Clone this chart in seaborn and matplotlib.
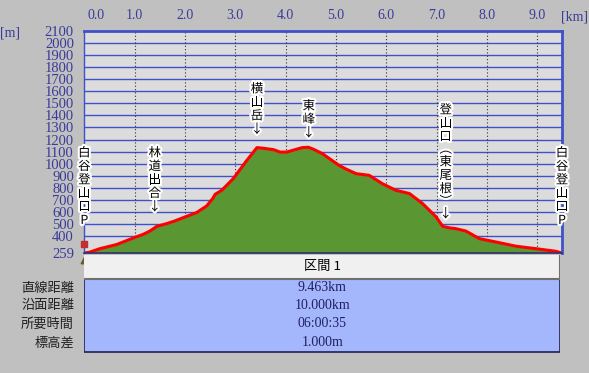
import numpy as np
import pandas as pd
import matplotlib
matplotlib.use("Agg")
import matplotlib.pyplot as plt
import matplotlib.patheffects as pe
import matplotlib.transforms as mtrans
from matplotlib.patches import Rectangle
import seaborn as sns

sns.set_theme(style="white")
plt.rcParams["font.family"] = ["Noto Sans CJK JP", "DejaVu Sans"]

# ── Profile data (horizontal distance km, elevation m) ─────────
dist_km = [0.00, 0.10, 0.31, 0.64, 0.97, 1.17, 1.30, 1.44, 1.64, 1.80,
           1.97, 2.23, 2.43, 2.55, 2.60, 2.73, 2.96, 3.23, 3.43, 3.55,
           3.76, 3.89, 4.02, 4.22, 4.33, 4.45, 4.55, 4.73, 5.06, 5.20,
           5.40, 5.66, 5.92, 6.19, 6.46, 6.72, 6.99, 7.12, 7.25, 7.38,
           7.58, 7.85, 8.18, 8.58, 8.97, 9.37, 9.46]
elev_m = [259, 265, 295, 329, 383, 414, 440, 480, 503, 525,
          553, 594, 649, 710, 746, 779, 876, 1028, 1133, 1128,
          1116, 1096, 1096, 1120, 1133, 1136, 1120, 1083, 986, 955,
          917, 903, 834, 779, 752, 669, 558, 480, 468, 461,
          441, 378, 350, 315, 295, 273, 262]

x_ticks = [0, 1, 2, 3, 4, 5, 6, 7, 8, 9]
y_ticks = [259] + list(range(400, 2101, 100))

# ── Waypoint labels ───────────────────────────────────
wp_names = ["白谷登山口P", "林道出合", "横山岳", "東峰", "登山口︵東尾根︶", "白谷登山口P"]
wp_km = [0.0, 1.40, 3.43, 4.46, 7.18, 9.49]
wp_arrow = [False, True, True, True, True, False]

# ── Summary table ─────────────────────────────────────
section_title = "区間 1"
row_names = ["直線距離", "沿面距離", "所要時間", "標高差"]
row_values = ["9.463km", "10.000km", "06:00:35", "1.000m"]

W, H = 589, 373
BG = "#c0c0c0"
TICK_C = "#3a3a9a"
GRID_C = "#4050c8"

fig = plt.figure(figsize=(W / 100, H / 100), dpi=100, facecolor=BG)


def fx(px):
    return px / W


def fy(py):
    return 1 - py / H


ax = fig.add_axes([fx(84.3), fy(253), fx(562 - 84.3), (253 - 31) / H])
ax.set_facecolor("#dcdcdc")

df = pd.DataFrame({"km": dist_km, "m": elev_m})
ax.fill_between(df["km"], df["m"], 259, color="#5a9632", lw=0)
sns.lineplot(data=df, x="km", y="m", color="#ff0000", lw=2.2, ax=ax,
             sort=False)

ax.set_xlim(0, 9.49)
ax.set_ylim(259, 2100)
ax.set_xticks(x_ticks)
ax.set_xticklabels([f"{v:.1f}" for v in x_ticks])
ax.set_yticks(y_ticks)
ax.set_yticklabels([str(v) for v in y_ticks])
ax.xaxis.tick_top()
ax.tick_params(axis="x", length=0, pad=6.5, labelsize=10, labelcolor=TICK_C)
ax.tick_params(axis="y", length=0, pad=7.5, labelsize=10.5, labelcolor=TICK_C)
for lab in ax.get_xticklabels() + ax.get_yticklabels():
    lab.set_family("Liberation Serif")
ax.set_xlabel("")
ax.set_ylabel("")

# shift first km label like the original
lab0 = ax.xaxis.get_major_ticks()[0].label2
lab0.set_transform(lab0.get_transform()
                   + mtrans.ScaledTranslation(0.12, 0, fig.dpi_scale_trans))

for v in y_ticks[1:-1]:
    ax.axhline(v, color=GRID_C, lw=1, zorder=0.5)
for v in x_ticks[1:]:
    ax.axvline(v, color="#303040", lw=0.8, ls=(0, (1, 2)), zorder=0.6)

ax.spines["top"].set_color(GRID_C)
ax.spines["top"].set_linewidth(2)
ax.spines["right"].set_color(GRID_C)
ax.spines["right"].set_linewidth(2)
ax.spines["left"].set_color(GRID_C)
ax.spines["left"].set_linewidth(1)
ax.spines["left"].set_linestyle((0, (1, 1)))
ax.spines["bottom"].set_color("#303070")
ax.spines["bottom"].set_linewidth(1.2)

fig.text(fx(10), fy(33), "[m]", color=TICK_C, fontsize=10,
         family="Liberation Serif", ha="center", va="center")
fig.text(fx(574), fy(17), "[km]", color=TICK_C, fontsize=10,
         family="Liberation Serif", ha="center", va="center")

# runner icon at the start
ax.scatter([0], [330], s=22, color="#c03030", marker="s", clip_on=False,
           zorder=6)
ax.scatter([0], [200], s=22, color="#6a5a30", marker="^", clip_on=False,
           zorder=6)

# ── Vertical waypoint labels ──────────────────────────
top_px = [153, 153, 89, 106, 110, 153]
halo = [pe.withStroke(linewidth=3, foreground="white")]
for name, km, arrow, ty in zip(wp_names, wp_km, wp_arrow, top_px):
    chars = list(name) + (["↓"] if arrow else [])
    y = 0.0
    prev = None
    for ch in chars:
        if prev is not None:
            y += 12.5 if (ch in "︵︶" or prev in "︵︶") else 13.5
        ax.annotate(ch, xy=(km, H - ty), xycoords=("data", "figure pixels"),
                    xytext=(0, -y), textcoords="offset pixels",
                    ha="center", va="center", fontsize=9, color="black",
                    path_effects=halo, annotation_clip=False, zorder=8)
        prev = ch

# ── Summary table ─────────────────────────────────────
tax = fig.add_axes([fx(84.3), fy(353), fx(560.3 - 84.3), (353 - 255) / H])
tax.set_xlim(0, 1)
tax.set_ylim(353, 255)
tax.axis("off")
tax.add_patch(Rectangle((0, 255), 1, 24, fc="#f0f0f0", ec="none"))
tax.plot([0, 1, 1], [279, 279, 255], color="#707070", lw=1.5)
tax.add_patch(Rectangle((0, 279), 1, 73, fc="#a4b6fc", ec="#202050", lw=1.2))
tax.text(0.5, 267, section_title, ha="center", va="center", fontsize=9.5,
         color="black")
row_y = [288, 306, 324, 343]
for name, val, ry in zip(row_names, row_values, row_y):
    tax.text(0.5, ry, val, ha="center", va="center", fontsize=10,
             color="#202060", family="Liberation Serif")
    fig.text(fx(74), fy(ry), name, ha="right", va="center", fontsize=9.5,
             color="#202020")

fig.savefig("out.png", dpi=100, facecolor=BG)
